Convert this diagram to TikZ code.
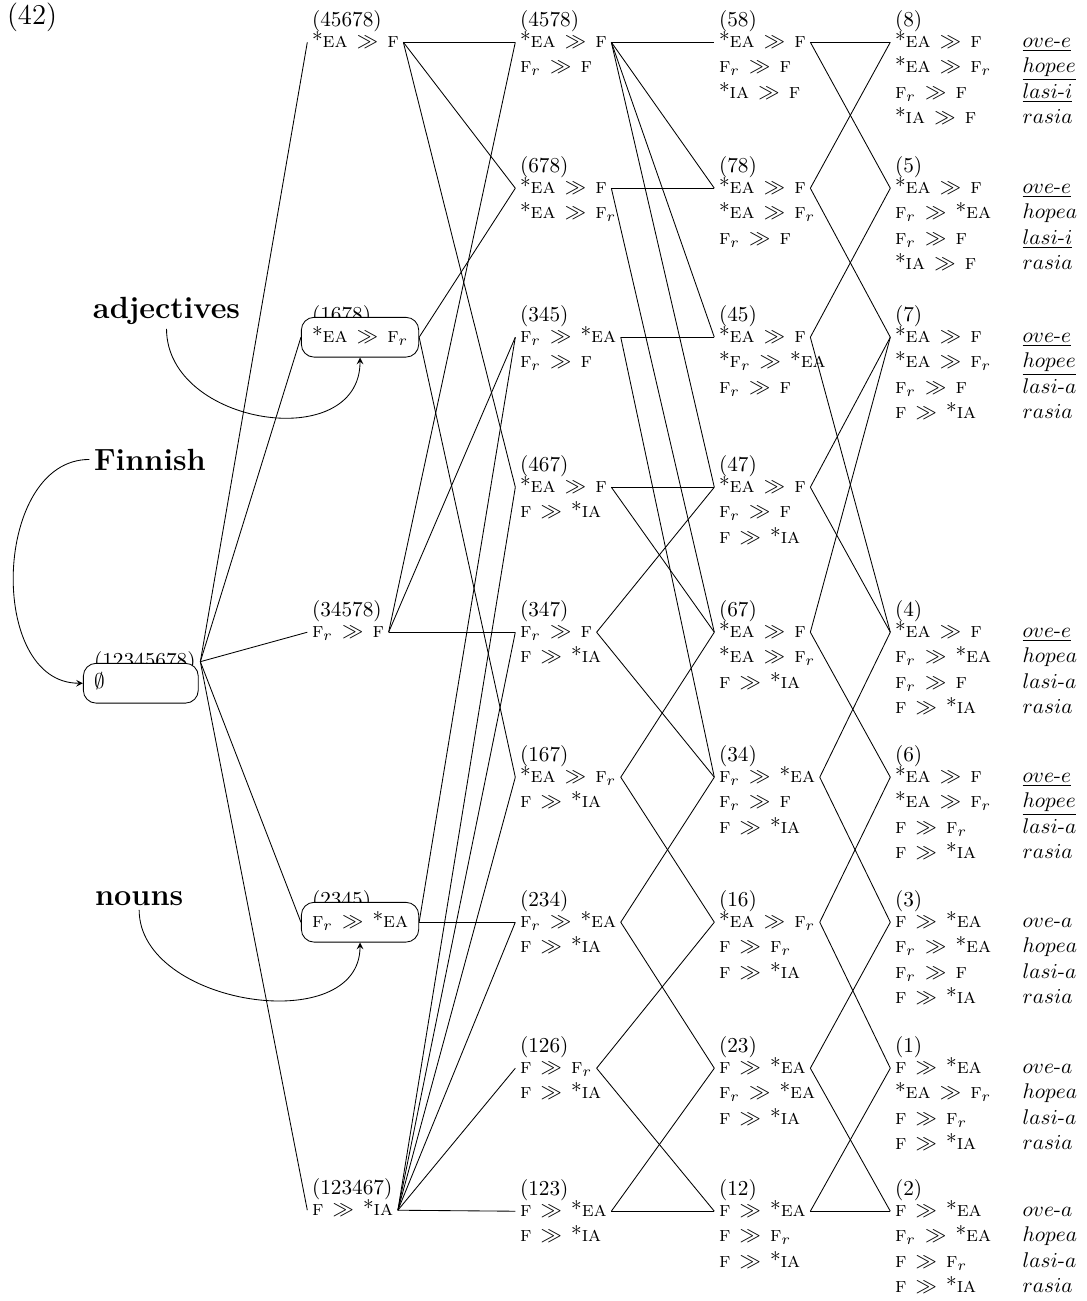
\documentclass[tikz,border=0pt]{standalone}
\usepackage{tikz}
\newcommand{\mea}{*\textsc{ea}}
\newcommand{\mia}{*\textsc{ia}}
\newcommand{\fth}{\textsc{f}}
\newcommand{\fthr}{\textsc{f}$_r$}
\newcommand{\dom}{\kern1pt$\gg$\kern1pt}
\newcommand{\form}[1]{$#1$}
\newcommand{\good}[1]{$\underline{#1}$}
\newcommand{\wrow}[2]{\makebox[60pt][l]{#1}#2}
% label, first row (named), further rows
\newcommand{\latnode}[7][]{%
  \node[num] (l#2) at (#3,#4-21) {(#5)};
  \node[row,#1] (#2) at (#3,#4) {#6};
  \foreach \rw [count=\kk] in {#7} {\node[row] at (#3,#4+25.5*\kk) {\rw};}
}

\begin{document}
\begin{tikzpicture}[x=0.47pt,y=-0.47pt,
    row/.style={anchor=text,inner sep=2pt,text height=7pt,text depth=2.5pt},
    num/.style={anchor=text,inner sep=2pt},
    box/.style={draw,fill=white,rounded corners=6pt,inner xsep=5pt,inner ysep=4.6pt},
    lang/.style={anchor=text,inner sep=2pt,font=\Large\bfseries},
    >=stealth]
  \useasboundingbox (0,0) rectangle (1087,1301);

  \node[anchor=text] (ex) at (7,24) {\fontsize{13.5}{16}\selectfont (42)};
  \node[lang] (adj) at (93,318) {adjectives};
  \node[lang] (fin) at (94,470) {Finnish};
  \node[lang] (nouns) at (95,905) {nouns};

  \latnode[box]{s0}{94}{688}{12345678}{\makebox[44pt][l]{$\emptyset$}}{}

  \latnode{s45678}{312}{47}{45678}{\mea\ \dom\ \fth}{}
  \latnode[box]{s1678}{312}{342}{1678}{\mea\ \dom\ \fthr}{}
  \latnode{s34578}{312}{637}{34578}{\fthr\ \dom\ \fth}{}
  \latnode[box]{s2345}{312}{927}{2345}{\fthr\ \dom\ \mea}{}
  \latnode{s123467}{312}{1215}{123467}{\fth\ \dom\ \mia}{}

  \latnode{s4578}{520}{47}{4578}{\mea\ \dom\ \fth}{\fthr\ \dom\ \fth}
  \latnode{s678}{520}{193}{678}{\mea\ \dom\ \fth}{\mea\ \dom\ \fthr}
  \latnode{s345}{520}{342}{345}{\fthr\ \dom\ \mea}{\fthr\ \dom\ \fth}
  \latnode{s467}{520}{492}{467}{\mea\ \dom\ \fth}{\fth\ \dom\ \mia}
  \latnode{s347}{520}{637}{347}{\fthr\ \dom\ \fth}{\fth\ \dom\ \mia}
  \latnode{s167}{520}{782}{167}{\mea\ \dom\ \fthr}{\fth\ \dom\ \mia}
  \latnode{s234}{520}{927}{234}{\fthr\ \dom\ \mea}{\fth\ \dom\ \mia}
  \latnode{s126}{520}{1073}{126}{\fth\ \dom\ \fthr}{\fth\ \dom\ \mia}
  \latnode{s123}{520}{1216}{123}{\fth\ \dom\ \mea}{\fth\ \dom\ \mia}

  \latnode{s58}{719}{47}{58}{\mea\ \dom\ \fth}{\fthr\ \dom\ \fth,\mia\ \dom\ \fth}
  \latnode{s78}{719}{193}{78}{\mea\ \dom\ \fth}{\mea\ \dom\ \fthr,\fthr\ \dom\ \fth}
  \latnode{s45}{719}{342}{45}{\mea\ \dom\ \fth}{*\fthr\ \dom\ \mea,\fthr\ \dom\ \fth}
  \latnode{s47}{719}{492}{47}{\mea\ \dom\ \fth}{\fthr\ \dom\ \fth,\fth\ \dom\ \mia}
  \latnode{s67}{719}{637}{67}{\mea\ \dom\ \fth}{\mea\ \dom\ \fthr,\fth\ \dom\ \mia}
  \latnode{s34}{719}{782}{34}{\fthr\ \dom\ \mea}{\fthr\ \dom\ \fth,\fth\ \dom\ \mia}
  \latnode{s16}{719}{927}{16}{\mea\ \dom\ \fthr}{\fth\ \dom\ \fthr,\fth\ \dom\ \mia}
  \latnode{s23}{719}{1073}{23}{\fth\ \dom\ \mea}{\fthr\ \dom\ \mea,\fth\ \dom\ \mia}
  \latnode{s12}{719}{1216}{12}{\fth\ \dom\ \mea}{\fth\ \dom\ \fthr,\fth\ \dom\ \mia}

  \latnode{s8}{895}{47}{8}{\wrow{\mea\ \dom\ \fth}{\good{ove\mbox{-}e}}}
    {\wrow{\mea\ \dom\ \fthr}{\good{hopee}},\wrow{\fthr\ \dom\ \fth}{\good{lasi\mbox{-}i}},\wrow{\mia\ \dom\ \fth}{\form{rasia}}}
  \latnode{s5}{895}{193}{5}{\wrow{\mea\ \dom\ \fth}{\good{ove\mbox{-}e}}}
    {\wrow{\fthr\ \dom\ \mea}{\form{hopea}},\wrow{\fthr\ \dom\ \fth}{\good{lasi\mbox{-}i}},\wrow{\mia\ \dom\ \fth}{\form{rasia}}}
  \latnode{s7}{895}{342}{7}{\wrow{\mea\ \dom\ \fth}{\good{ove\mbox{-}e}}}
    {\wrow{\mea\ \dom\ \fthr}{\good{hopee}},\wrow{\fthr\ \dom\ \fth}{\form{lasi\mbox{-}a}},\wrow{\fth\ \dom\ \mia}{\form{rasia}}}
  \latnode{s4}{895}{637}{4}{\wrow{\mea\ \dom\ \fth}{\good{ove\mbox{-}e}}}
    {\wrow{\fthr\ \dom\ \mea}{\form{hopea}},\wrow{\fthr\ \dom\ \fth}{\form{lasi\mbox{-}a}},\wrow{\fth\ \dom\ \mia}{\form{rasia}}}
  \latnode{s6}{895}{782}{6}{\wrow{\mea\ \dom\ \fth}{\good{ove\mbox{-}e}}}
    {\wrow{\mea\ \dom\ \fthr}{\good{hopee}},\wrow{\fth\ \dom\ \fthr}{\form{lasi\mbox{-}a}},\wrow{\fth\ \dom\ \mia}{\form{rasia}}}
  \latnode{s3}{895}{927}{3}{\wrow{\fth\ \dom\ \mea}{\form{ove\mbox{-}a}}}
    {\wrow{\fthr\ \dom\ \mea}{\form{hopea}},\wrow{\fthr\ \dom\ \fth}{\form{lasi\mbox{-}a}},\wrow{\fth\ \dom\ \mia}{\form{rasia}}}
  \latnode{s1}{895}{1073}{1}{\wrow{\fth\ \dom\ \mea}{\form{ove\mbox{-}a}}}
    {\wrow{\mea\ \dom\ \fthr}{\form{hopea}},\wrow{\fth\ \dom\ \fthr}{\form{lasi\mbox{-}a}},\wrow{\fth\ \dom\ \mia}{\form{rasia}}}
  \latnode{s2}{895}{1216}{2}{\wrow{\fth\ \dom\ \mea}{\form{ove\mbox{-}a}}}
    {\wrow{\fthr\ \dom\ \mea}{\form{hopea}},\wrow{\fth\ \dom\ \fthr}{\form{lasi\mbox{-}a}},\wrow{\fth\ \dom\ \mia}{\form{rasia}}}

  % lattice edges
  \foreach \a/\b in {ls0/s45678,ls0/s1678,ls0/s34578,ls0/s2345,ls0/s123467,
      s45678/s4578,s45678/s678,s45678/s467,s1678/s678,s1678/s167,
      s34578/s4578,s34578/s345,s34578/s347,s2345/s345,s2345/s234,
      s123467/s467,s123467/s347,s123467/s167,s123467/s234,s123467/s126,s123467/s123,
      s4578/s58,s4578/s78,s4578/s45,s4578/s47,s678/s78,s678/s67,
      s345/s45,s345/s34,s467/s47,s467/s67,s347/s47,s347/s34,
      s167/s67,s167/s16,s234/s34,s234/s23,s126/s16,s126/s12,s123/s23,s123/s12,
      s58/s8,s58/s5,s78/s8,s78/s7,s45/s5,s45/s4,s47/s4,s47/s7,s67/s7,s67/s6,
      s34/s4,s34/s3,s16/s6,s16/s1,s23/s3,s23/s2,s12/s1,s12/s2}
    \draw (\a.east) -- (\b.west);

  \draw[->] (fin.west) to[out=180,in=180,looseness=1.1] (s0.west);
  \draw[->] (adj.south) to[out=-90,in=-90,looseness=1.27] (s1678.south);
  \draw[->] (nouns.south) to[out=-90,in=-90,looseness=1.1] (s2345.south);
\end{tikzpicture}
\end{document}
